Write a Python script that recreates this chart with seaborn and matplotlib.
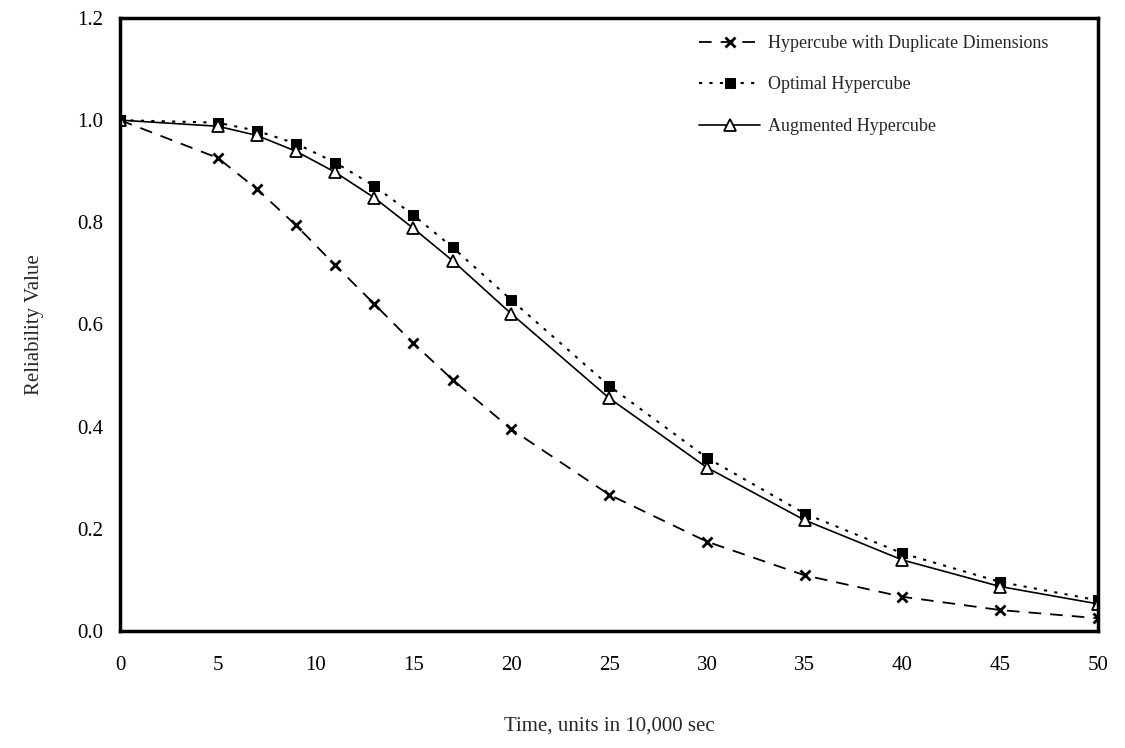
import matplotlib
matplotlib.use("Agg")
import matplotlib.pyplot as plt
import seaborn as sns

# data
time = [0, 5, 7, 9, 11, 13, 15, 17, 20, 25, 30, 35, 40, 45, 50]
dup_dims = [1.0, 0.926, 0.865, 0.794, 0.716, 0.640, 0.563, 0.492, 0.395,
            0.267, 0.175, 0.109, 0.067, 0.041, 0.025]
optimal = [1.0, 0.995, 0.979, 0.954, 0.917, 0.871, 0.814, 0.751, 0.648,
           0.480, 0.339, 0.230, 0.152, 0.096, 0.060]
augmented = [1.0, 0.988, 0.970, 0.939, 0.898, 0.848, 0.788, 0.725, 0.621,
             0.456, 0.320, 0.217, 0.139, 0.087, 0.053]
labels = ["Hypercube with Duplicate Dimensions", "Optimal Hypercube",
          "Augmented Hypercube"]
x_ticks = [0, 5, 10, 15, 20, 25, 30, 35, 40, 45, 50]
y_ticks = [0.0, 0.2, 0.4, 0.6, 0.8, 1.0, 1.2]

sns.set_style("white")
plt.rcParams["font.family"] = ["Liberation Serif", "DejaVu Serif"]

fig = plt.figure(figsize=(11.25, 7.48), dpi=100)
ax = fig.add_axes([0.1067, 0.1564, 0.8694, 0.8196])

sns.lineplot(x=time, y=dup_dims, ax=ax, color="black", linewidth=1.3,
             marker="x", markersize=7, markeredgewidth=2,
             markeredgecolor="black", label=labels[0])
ax.lines[-1].set_dashes([7, 5])
sns.lineplot(x=time, y=optimal, ax=ax, color="black", linewidth=1.5,
             marker="s", markersize=7, markerfacecolor="black",
             markeredgecolor="black", label=labels[1])
ax.lines[-1].set_dashes([1.5, 3.5])
sns.lineplot(x=time, y=augmented, ax=ax, color="black", linewidth=1.2,
             marker="^", markersize=8, markerfacecolor="white",
             markeredgecolor="black", markeredgewidth=1.3, label=labels[2])

ax.set_xlim(0, 50)
ax.set_ylim(0, 1.2)
ax.set_xticks(x_ticks)
ax.set_yticks(y_ticks)
ax.set_yticklabels([f"{v:.1f}" for v in y_ticks])
ax.tick_params(axis="both", length=0, labelsize=15, colors="black")
ax.tick_params(axis="x", pad=18)
ax.tick_params(axis="y", pad=12)

for side in ax.spines.values():
    side.set_visible(True)
    side.set_color("black")
    side.set_linewidth(2.5)

ax.set_xlabel("Time, units in 10,000 sec", fontsize=15, labelpad=30)
ax.set_ylabel("Reliability Value", fontsize=15, labelpad=24)

ax.legend(loc="upper left", bbox_to_anchor=(0.592, 0.972), frameon=False,
          fontsize=13, handlelength=3.4, handletextpad=0.4,
          labelspacing=1.35, borderpad=0, borderaxespad=0)

fig.savefig("out.png", dpi=100)
